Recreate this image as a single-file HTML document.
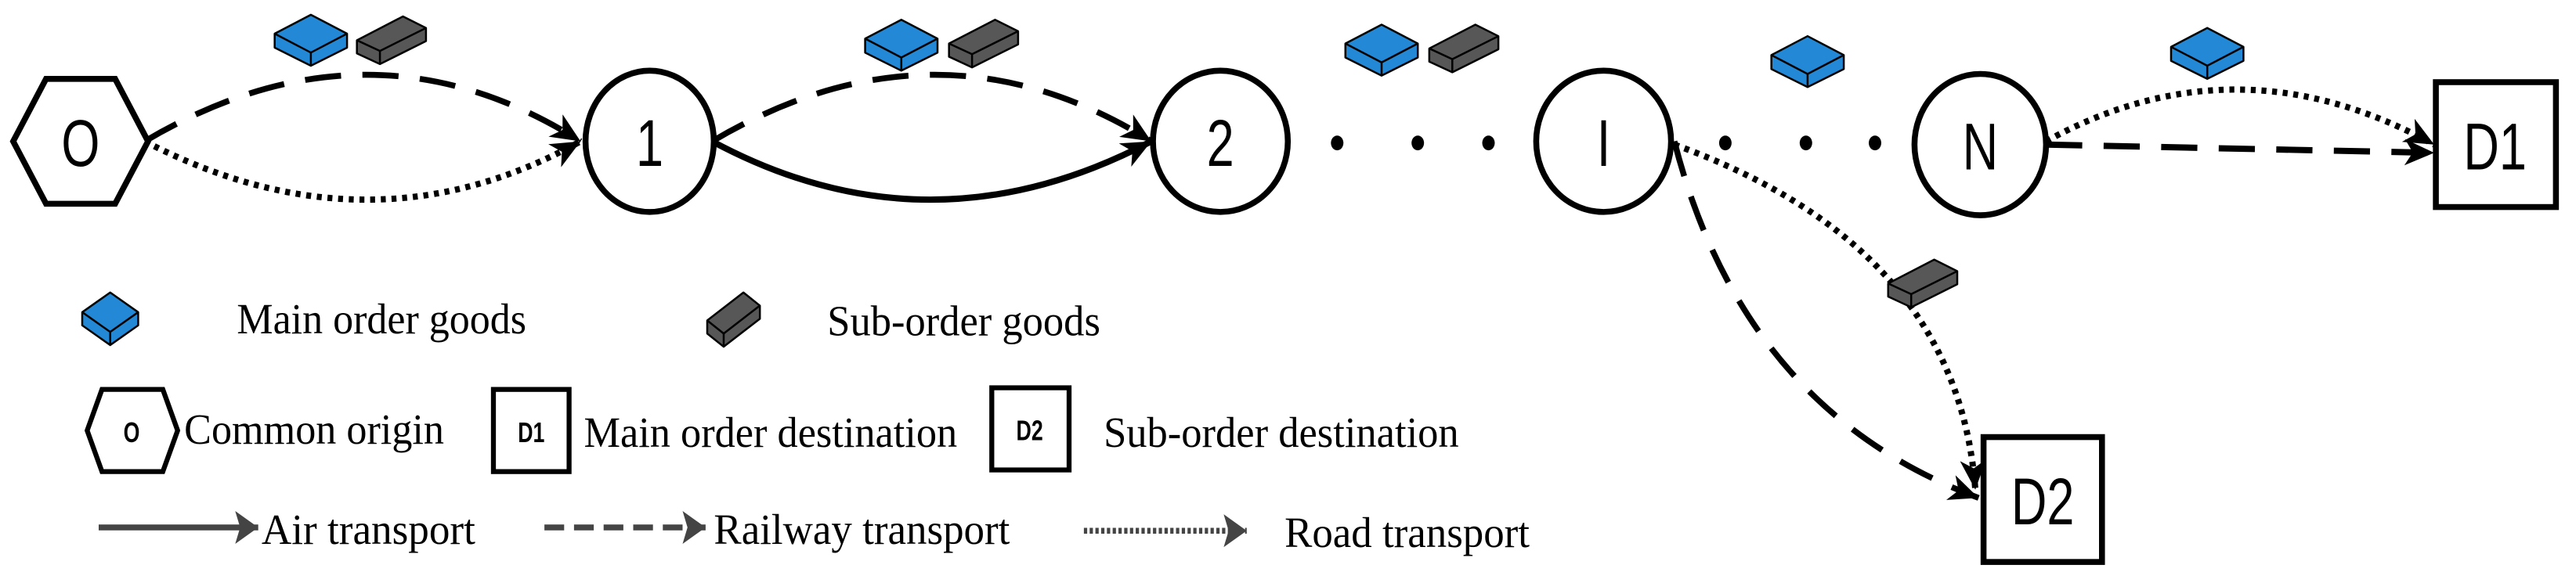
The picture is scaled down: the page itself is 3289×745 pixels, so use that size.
<!DOCTYPE html>
<html><head><meta charset="utf-8"><style>html,body{margin:0;padding:0;background:#fff;}svg{display:block}</style></head>
<body>
<svg width="3289" height="745" viewBox="0 0 1566.2 354.8" preserveAspectRatio="none" xmlns="http://www.w3.org/2000/svg">
<defs>
<g id="blue" stroke="#000" stroke-width="1.2" stroke-linejoin="round">
<polygon points="0,11.5 22,0 44,11.5 44,20 22,31 0,20" fill="#2389d6"/>
<polyline points="0,11.5 22,23 44,11.5" fill="none"/>
<line x1="22" y1="23" x2="22" y2="31"/>
</g>
<g id="grey" stroke="#000" stroke-width="1.2" stroke-linejoin="round">
<polygon points="0,14.5 28,0 42,7 42,15 14,29 0,22.5" fill="#575757"/>
<polyline points="0,14.5 14,21 42,7" fill="none"/>
<line x1="14" y1="21" x2="14" y2="29"/>
</g>
<g id="blueL" stroke="#000" stroke-width="1.2" stroke-linejoin="round">
<polygon points="0,12 17,0 34,12 34,20 17,32 0,20" fill="#2389d6"/>
<polyline points="0,12 17,24 34,12" fill="none"/>
<line x1="17" y1="24" x2="17" y2="32"/>
</g>
<g id="greyL" stroke="#000" stroke-width="1.2" stroke-linejoin="round">
<polygon points="0,17 22,0 32,8 32,16 10,33 0,25" fill="#575757"/>
<polyline points="0,17 10,25 32,8" fill="none"/>
<line x1="10" y1="25" x2="10" y2="33"/>
</g>
<marker id="ah" markerUnits="userSpaceOnUse" markerWidth="22" markerHeight="18" refX="18" refY="8" orient="auto">
<path d="M0,0 L18,8 L0,16 L5,8 Z" fill="#000"/>
</marker>
<marker id="lh" markerUnits="userSpaceOnUse" markerWidth="16" markerHeight="22" refX="14" refY="10" orient="auto">
<path d="M0,0 L14,10 L0,20 L3,10 Z" fill="#444"/>
</marker>
</defs>

<g fill="none" stroke="#000">
<path d="M88 86 Q225 5 353 86" stroke-width="3.6" stroke-dasharray="22 13" marker-end="url(#ah)"/>
<path d="M88 86 Q225 157 353 86" stroke-width="3.8" stroke-dasharray="3 3.5" marker-end="url(#ah)"/>
<path d="M433 86 Q570 5 700 86" stroke-width="3.6" stroke-dasharray="22 13" marker-end="url(#ah)"/>
<path d="M433 86 Q565 157 700 86" stroke-width="3.8" marker-end="url(#ah)"/>
<path d="M1244 86 Q1360 22 1480 88" stroke-width="3.8" stroke-dasharray="3 3.5" marker-end="url(#ah)"/>
<path d="M1244 88 L1480 93" stroke-width="3.8" stroke-dasharray="22 13" marker-end="url(#ah)"/>
<path d="M1018 86 Q1060 250 1203 303" stroke-width="3.6" stroke-dasharray="22 13" marker-end="url(#ah)"/>
<path d="M1018 88 Q1190 150 1201 298" stroke-width="3.8" stroke-dasharray="3 3.5" marker-end="url(#ah)"/>
</g>

<g stroke="#000" stroke-width="3.6" fill="#fff">
<polygon points="8,86 28,48 70,48 90,86 70,124 28,124"/>
<ellipse cx="395" cy="86" rx="39" ry="43"/>
<ellipse cx="742" cy="86" rx="41" ry="43"/>
<ellipse cx="975" cy="86" rx="41" ry="43"/>
<ellipse cx="1204" cy="88" rx="40" ry="43"/>
<rect x="1481" y="50" width="73" height="76"/>
<rect x="1206" y="266" width="72" height="76"/>
</g>
<g font-family="Liberation Sans, sans-serif" font-size="40" text-anchor="middle" fill="#000">
<text transform="translate(49,101) scale(0.75,1)">O</text>
<text transform="translate(395,101) scale(0.75,1)">1</text>
<text transform="translate(742,101) scale(0.75,1)">2</text>
<text transform="translate(975,101) scale(0.75,1)">I</text>
<text transform="translate(1204,103) scale(0.75,1)">N</text>
<text transform="translate(1517,103) scale(0.75,1)">D1</text>
<text transform="translate(1242,319) scale(0.75,1)">D2</text>
</g>
<g fill="#000">
<ellipse cx="813" cy="87" rx="3.8" ry="4.5"/><ellipse cx="862" cy="87" rx="3.8" ry="4.5"/><ellipse cx="905" cy="87" rx="3.8" ry="4.5"/>
<ellipse cx="1049" cy="87" rx="3.8" ry="4.5"/><ellipse cx="1098" cy="87" rx="3.8" ry="4.5"/><ellipse cx="1140" cy="87" rx="3.8" ry="4.5"/>
</g>

<use href="#blue" x="167" y="9"/><use href="#grey" x="217" y="10"/>
<use href="#blue" x="526" y="12"/><use href="#grey" x="577" y="12"/>
<use href="#blue" x="818" y="15"/><use href="#grey" x="869" y="15"/>
<use href="#blue" x="1077" y="22"/>
<use href="#blue" x="1320" y="17"/>
<use href="#grey" x="1148" y="158"/>

<use href="#blueL" x="50" y="178"/>
<use href="#greyL" x="430" y="178"/>
<g font-family="Liberation Serif, serif" font-size="26" fill="#000">
<text x="144" y="203" textLength="176" lengthAdjust="spacingAndGlyphs">Main order goods</text>
<text x="503" y="204" textLength="166" lengthAdjust="spacingAndGlyphs">Sub-order goods</text>
<text x="112" y="270" textLength="158" lengthAdjust="spacingAndGlyphs">Common origin</text>
<text x="355" y="272" textLength="227" lengthAdjust="spacingAndGlyphs">Main order destination</text>
<text x="671" y="272" textLength="216" lengthAdjust="spacingAndGlyphs">Sub-order destination</text>
<text x="159" y="331" textLength="130" lengthAdjust="spacingAndGlyphs">Air transport</text>
<text x="434" y="331" textLength="180" lengthAdjust="spacingAndGlyphs">Railway transport</text>
<text x="781" y="333" textLength="149" lengthAdjust="spacingAndGlyphs">Road transport</text>
</g>
<g stroke="#000" stroke-width="3" fill="#fff">
<polygon points="53,262 62,237 99,237 108,262 99,287 62,287"/>
<rect x="300" y="237" width="46" height="50"/>
<rect x="603" y="236" width="47" height="50"/>
</g>
<g font-family="Liberation Sans, sans-serif" font-weight="bold" font-size="17" text-anchor="middle" fill="#000">
<text transform="translate(80,269) scale(0.75,1)">O</text>
<text transform="translate(323,269) scale(0.75,1)">D1</text>
<text transform="translate(626,268) scale(0.75,1)">D2</text>
</g>
<g fill="none" stroke="#444">
<path d="M60 321 L157 321" stroke-width="3.6" marker-end="url(#lh)"/>
<path d="M331 321 L429 321" stroke-width="3.6" stroke-dasharray="12 6" marker-end="url(#lh)"/>
<path d="M659 323 L758 323" stroke-width="3.6" stroke-dasharray="2 1.5" marker-end="url(#lh)"/>
</g>
</svg>
</body></html>
